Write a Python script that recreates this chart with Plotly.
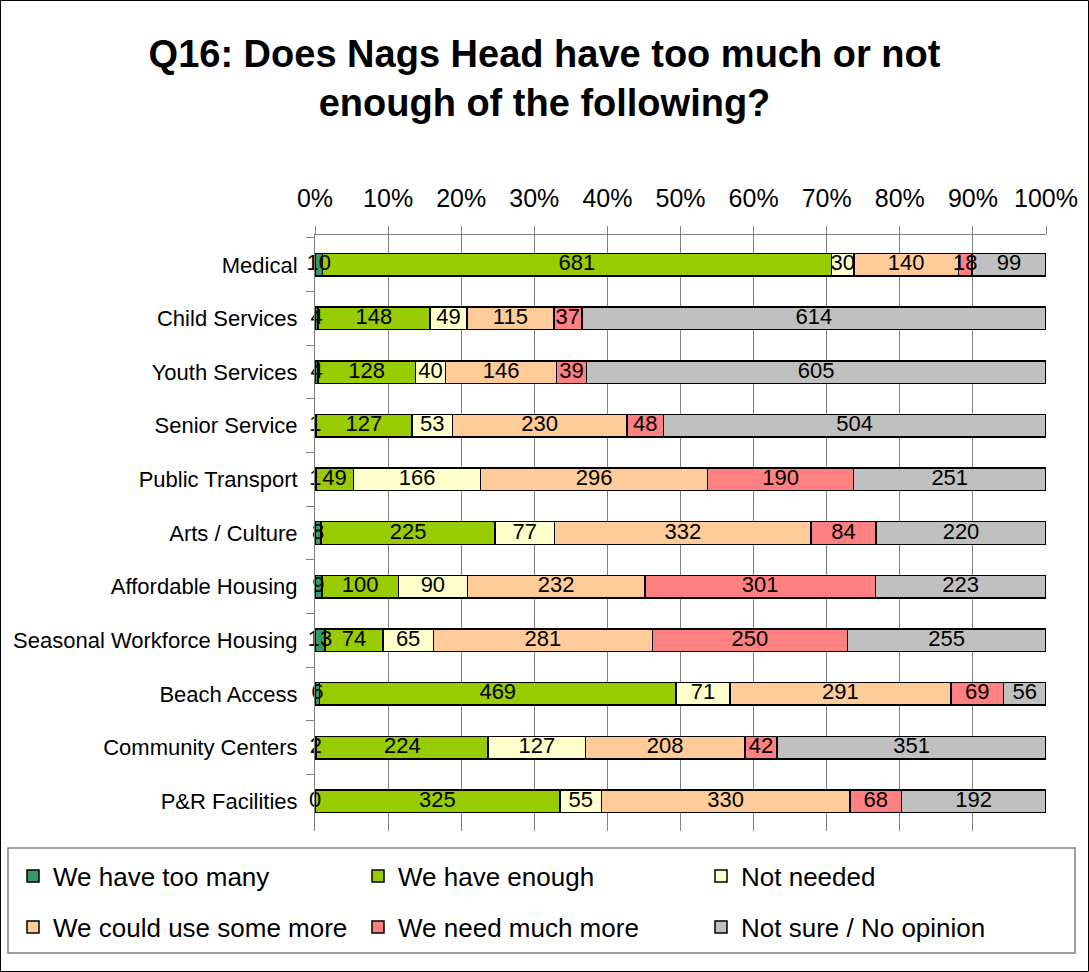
import plotly.graph_objects as go

categories = ["Medical", "Child Services", "Youth Services", "Senior Service",
              "Public Transport", "Arts / Culture", "Affordable Housing",
              "Seasonal Workforce Housing", "Beach Access", "Community Centers",
              "P&R Facilities"]

too_many = [10, 4, 4, 1, 1, 8, 9, 13, 6, 2, 0]
have_enough = [681, 148, 128, 127, 49, 225, 100, 74, 469, 224, 325]
not_needed = [30, 49, 40, 53, 166, 77, 90, 65, 71, 127, 55]
could_use_more = [140, 115, 146, 230, 296, 332, 232, 281, 291, 208, 330]
need_much_more = [18, 37, 39, 48, 190, 84, 301, 250, 69, 42, 68]
not_sure = [99, 614, 605, 504, 251, 220, 223, 255, 56, 351, 192]

series = [
    ("We have too many", too_many, "#339966"),
    ("We have enough", have_enough, "#99CC00"),
    ("Not needed", not_needed, "#FFFFCC"),
    ("We could use some more", could_use_more, "#FFCC99"),
    ("We need much more", need_much_more, "#FF8080"),
    ("Not sure / No opinion", not_sure, "#C0C0C0"),
]

FONT = "Liberation Sans, Arial, sans-serif"

W, H = 1089, 972
L, R, T, B = 315, 43, 235, 141
pw, ph = W - L - R, H - T - B

def px(xp):
    return (xp - L) / pw

def py(yp):
    return (H - B - yp) / ph

# legend placement (absolute pixel positions of each legend's left edge / row centre)
leg_x = [13, 358, 701]
leg_y = [876, 927]

fig = go.Figure()
legend_layouts = {}
for i, (name, vals, color) in enumerate(series):
    key = "legend" if i == 0 else f"legend{i + 1}"
    fig.add_trace(go.Bar(
        name=name, y=categories, x=vals, orientation="h",
        marker=dict(color=color, line=dict(color="black", width=1.5)),
        textposition="none", legend=key, hoverinfo="x+y+name",
    ))
    legend_layouts[key] = dict(
        orientation="h", x=px(leg_x[i % 3]), xanchor="left",
        y=py(leg_y[i // 3]), yanchor="middle", bgcolor="rgba(0,0,0,0)",
        font=dict(family=FONT, size=26, color="black"))

# value labels drawn on top of all bars, centred on each segment
totals = [sum(s[1][j] for s in series) for j in range(len(categories))]
cum = [0] * len(categories)
for name, vals, color in series:
    centres = []
    for j, v in enumerate(vals):
        centres.append((cum[j] + v / 2) / totals[j] * 100)
        cum[j] += v
    fig.add_trace(go.Scatter(
        x=centres, y=categories, mode="text", text=[str(v) for v in vals],
        textposition="middle center", showlegend=False, cliponaxis=False,
        hoverinfo="skip",
        textfont=dict(family=FONT, size=22, color="black"),
    ))

fig.update_layout(
    width=W, height=H,
    margin=dict(l=L, r=R, t=T, b=B, autoexpand=False),
    barmode="stack", barnorm="percent", bargap=0.58,
    paper_bgcolor="white", plot_bgcolor="white",
    font=dict(family=FONT, color="black"),
    title=dict(text="<b>Q16: Does Nags Head have too much or not<br>enough of the following?</b>",
               x=0.5, xanchor="center", y=1 - 67 / H, yanchor="top",
               font=dict(family=FONT, size=38, color="black")),
    xaxis=dict(side="top", range=[0, 100], dtick=10, ticksuffix="%",
               showgrid=True, gridcolor="#808080", gridwidth=1,
               ticks="outside", ticklen=8, tickcolor="#808080",
               showline=True, linecolor="#808080", linewidth=1,
               zeroline=False, automargin=False, ticklabelstandoff=9,
               tickfont=dict(family=FONT, size=25, color="black")),
    yaxis=dict(autorange="reversed", type="category", tickson="boundaries",
               ticks="outside", ticklen=8, tickcolor="#808080",
               showline=True, linecolor="#808080", linewidth=1,
               showgrid=False, zeroline=False, automargin=False,
               ticklabelstandoff=12,
               tickfont=dict(family=FONT, size=22, color="black")),
    shapes=[
        dict(type="rect", xref="paper", yref="paper", x0=px(8), x1=px(1075),
             y0=py(953), y1=py(848), line=dict(color="#808080", width=1.5),
             fillcolor="rgba(0,0,0,0)", layer="below"),
        dict(type="rect", xref="paper", yref="paper", x0=px(0.5), x1=px(1088.5),
             y0=py(971.5), y1=py(0.5), line=dict(color="black", width=1),
             fillcolor="rgba(0,0,0,0)", layer="below"),
    ],
    **legend_layouts,
)

fig.write_html("out.html", config={"displayModeBar": False},
               post_script="document.body.style.margin='0';")
